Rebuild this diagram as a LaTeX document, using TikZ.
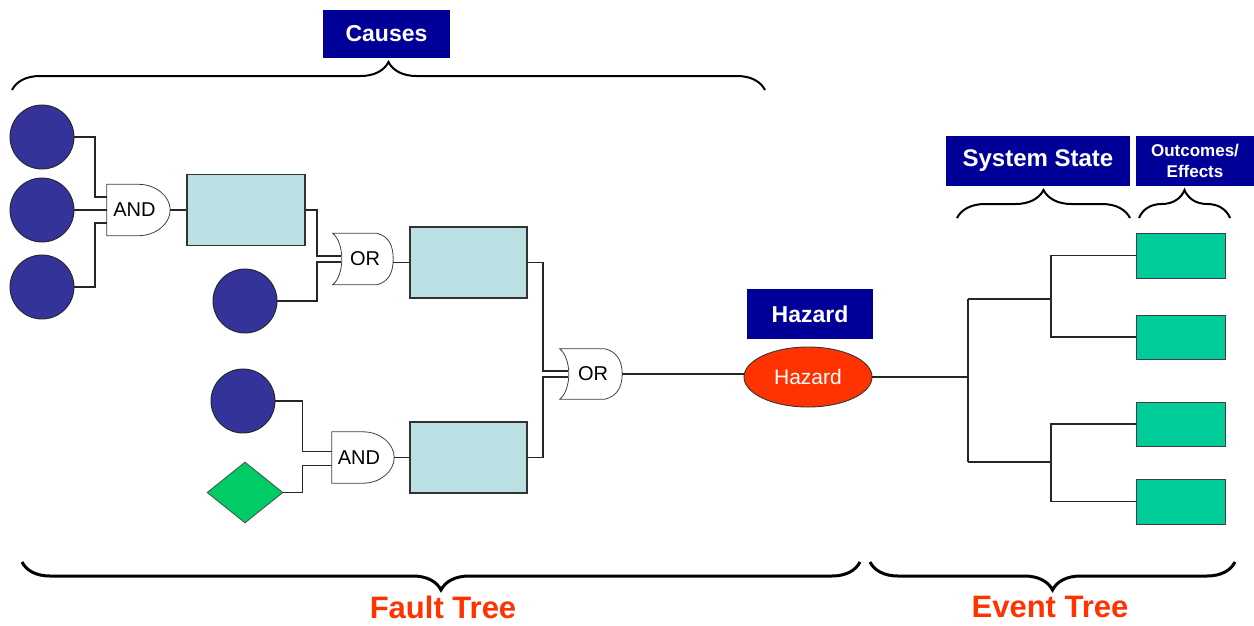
\documentclass[tikz,border=0pt]{standalone}
\usepackage{fontspec}
\setmainfont{Liberation Sans}
\usetikzlibrary{shapes.geometric,decorations.pathreplacing,calc}
\definecolor{navy}{RGB}{0,0,153}
\definecolor{eventblue}{RGB}{51,51,153}
\definecolor{cellfill}{RGB}{187,224,227}
\definecolor{condgreen}{RGB}{0,204,102}
\definecolor{outgreen}{RGB}{0,204,153}
\definecolor{hazred}{RGB}{255,51,0}
\pgfdeclarelayer{background}
\pgfsetlayers{background,main}

% AND gate outline: flat input side, round output side
\newcommand\andoutline[1]{%
  \draw[gateline] (#1.north west) -- (#1.north)
    .. controls ($(#1.north)+(17,0)$) and ($(#1.east)+(0,-14)$) .. (#1.east)
    .. controls ($(#1.east)+(0,14)$) and ($(#1.south)+(17,0)$) .. (#1.south)
    -- (#1.south west) -- cycle;}
% OR gate outline: concave input side, bulging output side
\newcommand\oroutline[1]{%
  \draw[gateline] (#1.north west) -- ($(#1.north)+(14,0)$)
    .. controls ($(#1.north)+(26,3)$) and ($(#1.east)+(0,-13)$) .. (#1.east)
    .. controls ($(#1.east)+(0,13)$) and ($(#1.south)+(26,-3)$) .. ($(#1.south)+(14,0)$)
    -- (#1.south west)
    .. controls ($(#1.south west)+(12,-10)$) and ($(#1.north west)+(12,10)$) .. (#1.north west)
    -- cycle;}

\begin{document}
\begin{tikzpicture}[x=1pt,y=-1pt,
  basic/.style={circle,draw=black!85,line width=0.9,fill=eventblue,minimum size=64,inner sep=0},
  cond/.style={diamond,draw=black!70,line width=0.8,fill=condgreen,minimum width=76,minimum height=61,inner sep=0},
  cell/.style={rectangle,draw=black!80,line width=1.3,fill=cellfill,minimum width=117,minimum height=71,inner sep=0},
  outcome/.style={rectangle,draw=black!75,line width=1,fill=outgreen,minimum width=89,minimum height=45,inner sep=0},
  gate/.style={rectangle,minimum width=62,minimum height=51,inner sep=0,font=\fontsize{20}{24}\selectfont},
  gateline/.style={draw=black!75,line width=0.8,fill=white},
  header/.style={rectangle,fill=navy,text=white,inner sep=0,font=\bfseries\fontsize{23}{27}\selectfont},
  wire/.style={draw=black!85,line width=1.1},
  curly/.style={decorate,decoration={brace,amplitude=28},line width=2.2},
  treelabel/.style={text=hazred,font=\bfseries\fontsize{31}{36}\selectfont}
]
\useasboundingbox (0,0) rectangle (1254,625);

% ---------- headings ----------
\node[header,minimum width=127,minimum height=48] (causes) at (386.5,34) {Causes};
\node[header,minimum width=126,minimum height=50] (hazlbl) at (810,314) {Hazard};
\node[header,minimum width=184,minimum height=50,font=\bfseries\fontsize{24}{28}\selectfont] (sysstate) at (1038,161) {System State};
\node[header,minimum width=118,minimum height=50,align=center,font=\bfseries\fontsize{17}{21}\selectfont] (outcomes) at (1195,161) {Outcomes/\\Effects};

% ---------- braces ----------
\draw[curly,line width=2] (12,90) -- (765,90);
\draw[curly,line width=2] (957,218) -- (1130,218);
\draw[curly,line width=2] (1139,218) -- (1230,218);
\draw[curly,line width=3] (860,562) -- (22,562);
\draw[curly,line width=3] (1235,562) -- (870,562);
\node[treelabel] (faultlbl) at (443,607) {Fault Tree};
\node[treelabel] (eventlbl) at (1050,607) {Event Tree};

% ---------- fault tree ----------
\node[basic] (c1) at (42,137) {};
\node[basic] (c2) at (42,210) {};
\node[basic] (c3) at (42,287) {};
\node[gate,minimum width=63] (and1) at (138.5,210) {\hspace*{-8pt}AND};
\node[cell,minimum width=118] (r1) at (246,210) {};
\node[gate,minimum width=60] (or1) at (363,259) {\hspace*{4pt}OR};
\node[basic] (c4) at (245,301) {};
\node[cell] (r2) at (468.5,262.5) {};
\node[basic] (c5) at (243,401) {};
\node[cond] (d1) at (245,492.5) {};
\node[gate] (and2) at (363,457.5) {\hspace*{-8pt}AND};
\node[cell] (r3) at (468.5,457.5) {};
\node[gate,minimum height=50] (or2) at (591,374) {\hspace*{4pt}OR};
\node[ellipse,fill=hazred,draw=black!80,line width=0.9,minimum width=128,minimum height=60,inner sep=0,
      text=white,font=\fontsize{21}{25}\selectfont] (haz) at (808,377) {Hazard};

\begin{pgfonlayer}{background}
  \andoutline{and1}
  \andoutline{and2}
  \oroutline{or1}
  \oroutline{or2}
\end{pgfonlayer}

% bus positions of the orthogonal wiring
\coordinate (b1) at (95,0);
\coordinate (b2) at (317,0);
\coordinate (b3) at (543,0);
\coordinate (b4) at (302.5,0);

% gate inputs
\coordinate (and1a) at ($(and1.west)+(0,-13)$);
\coordinate (and1c) at ($(and1.west)+(0,13)$);
\coordinate (or1a) at ($(or1.west)+(8,-3)$);
\coordinate (or1b) at ($(or1.west)+(8,3)$);
\coordinate (and2a) at ($(and2.west)+(0,-6)$);
\coordinate (and2b) at ($(and2.west)+(0,8)$);
\coordinate (or2a) at ($(or2.west)+(8,-3)$);
\coordinate (or2b) at ($(or2.west)+(8,3)$);

\draw[wire] (c1.east) -- (c1.east -| b1) |- (and1a);
\draw[wire] (c2.east) -- (and1.west);
\draw[wire] (c3.east) -- (c3.east -| b1) |- (and1c);
\draw[wire] (and1.east) -- (r1.west);
\draw[wire] (r1.east) -- (r1.east -| b2) |- (or1a);
\draw[wire] (c4.east) -- (c4.east -| b2) |- (or1b);
\draw[wire] (r2.west -| or1.east) -- (r2.west);
\draw[wire] (c5.east) -- (c5.east -| b4) |- (and2a);
\draw[wire] (d1.east) -- (d1.east -| b4) |- (and2b);
\draw[wire] (and2.east) -- (r3.west);
\draw[wire] (r2.east) -- (r2.east -| b3) |- (or2a);
\draw[wire] (r3.east) -- (r3.east -| b3) |- (or2b);
\draw[wire] (or2.east) -- (or2.east -| haz.west);

% ---------- event tree ----------
\node[outcome] (e1) at (1180.5,255.5) {};
\node[outcome,minimum height=44] (e2) at (1180.5,337) {};
\node[outcome,minimum height=44] (e3) at (1180.5,424) {};
\node[outcome] (e4) at (1180.5,501.5) {};

\coordinate (k1) at (968,299);
\coordinate (k2) at (968,462);
\coordinate (m1) at (1051,299);
\coordinate (m2) at (1051,462);

\draw[wire] (haz.east) -- (haz.east -| k1);
\draw[wire] (k1) -- (k2);
\draw[wire] (k1) -- (m1);
\draw[wire] (k2) -- (m2);
\draw[wire] (e1.west) -| (m1);
\draw[wire] (e2.west) -| (m1);
\draw[wire] (e3.west) -| (m2);
\draw[wire] (e4.west) -| (m2);
\end{tikzpicture}
\end{document}
